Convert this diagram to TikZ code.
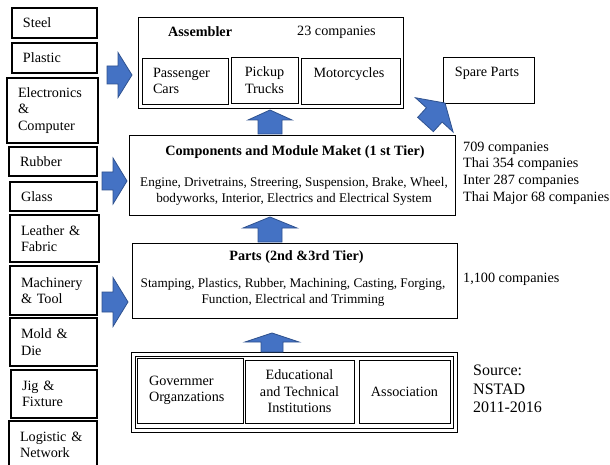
\documentclass[tikz,border=0pt]{standalone}
\usepackage{fontspec}
\setmainfont{Liberation Serif}
\definecolor{arrfill}{HTML}{4472C4}
\definecolor{arrline}{HTML}{2F528F}
\newcommand\setfs[2]{\fontsize{#1}{#2}\selectfont}
% tail point, angle, length, shaft half width, head half width, head length
\newcommand\BlockArr[6]{%
  \filldraw[blockarrow, shift={#1}, rotate=#2]
    (0,#4) -- ({#3-#6},#4) -- ({#3-#6},#5) -- (#3,0) -- ({#3-#6},-#5)
    -- ({#3-#6},-#4) -- (0,-#4) -- cycle;}
\begin{document}
\begin{tikzpicture}[x=1pt,y=-1pt,
  box/.style={draw=black, line width=0.9pt, inner sep=0pt},
  lbox/.style={box, align=left, inner xsep=11pt, font=\setfs{14.2}{16.5}},
  sbox/.style={lbox, line width=1.1pt},
  cbox/.style={box, align=center, font=\setfs{14.2}{16.5}},
  txt/.style={inner sep=0pt, font=\setfs{14.2}{16.5}},
  title/.style={inner sep=0pt, font=\setfs{14.2}{17}\bfseries},
  body/.style={inner sep=0pt, align=center, font=\setfs{13.2}{16}},
  blockarrow/.style={fill=arrfill, draw=arrline, line width=0.8pt, line join=miter}]
\useasboundingbox (0,0) rectangle (610,465);
\clip (0,0) rectangle (610,465);

% left column of suppliers
\node[sbox, minimum width=85pt, text width=63pt, minimum height=30pt] (steel) at (54.5,23) {Steel};
\node[sbox, minimum width=85pt, text width=63pt, minimum height=30pt] (plastic) at (54.5,58) {Plastic};
\node[sbox, minimum width=91pt, text width=69pt, minimum height=65pt] (elec) at (52.5,110.5) {Electronics\\ \&\\ Computer};
\node[sbox, minimum width=88pt, text width=66pt, minimum height=29pt] (rubber) at (53,161.5) {Rubber};
\node[sbox, minimum width=87pt, text width=65pt, minimum height=29pt] (glass) at (53.5,196.5) {Glass};
\node[sbox, minimum width=89pt, text width=67pt, minimum height=47pt] (leather) at (54.5,238.5) {Leather \&\\ Fabric};
\node[sbox, minimum width=87pt, text width=65pt, minimum height=49pt] (mach) at (53.5,290.5) {Machinery\\ \& Tool};
\node[sbox, minimum width=87pt, text width=65pt, minimum height=48pt] (mold) at (53.5,342) {Mold \&\\ Die};
\node[sbox, minimum width=86pt, text width=64pt, minimum height=48pt] (jig) at (54,394) {Jig \&\\ Fixture};
\node[sbox, minimum width=88pt, text width=66pt, minimum height=48pt] (logi) at (53,445) {Logistic \&\\ Network};

% assembler
\node[box, minimum width=265pt, minimum height=91pt] (asm) at (270.5,62.5) {};
\node[title, anchor=west] (asmt) at (168,32) {Assembler};
\node[txt, anchor=west] (asmc) at (297,32) {23 companies};
\node[lbox, minimum width=86pt, text width=64pt, minimum height=46pt] (pass) at (185,81) {Passenger\\ Cars};
\node[cbox, minimum width=67pt, minimum height=46pt] (pick) at (264.5,80) {Pickup\\ Trucks};
\node[box, minimum width=99pt, minimum height=46pt] (moto) at (350.5,81) {};
\node[txt] (motot) at (349,74) {Motorcycles};

% spare parts
\node[box, minimum width=91pt, minimum height=46pt] (spare) at (488.5,80) {};
\node[txt] (sparet) at (487,73) {Spare Parts};

% components
\node[box, minimum width=326pt, minimum height=80pt] (comp) at (292,175) {};
\node[title] (compt) at (295,152) {Components and Module Maket (1 st Tier)};
\node[body] (compb) at (294,191) {Engine, Drivetrains, Streering, Suspension, Brake, Wheel,\\ bodyworks, Interior, Electrics and Electrical System};

% parts
\node[box, minimum width=325pt, minimum height=75pt] (parts) at (294.5,280.5) {};
\node[title] (partst) at (296.5,257) {Parts (2nd \&3rd Tier)};
\node[body] (partsb) at (293,292) {Stamping, Plastics, Rubber, Machining, Casting, Forging,\\ Function, Electrical and Trimming};

% support institutions
\node[box, minimum width=326pt, minimum height=80pt] (supo) at (294,392) {};
\node[box, minimum width=318pt, minimum height=72pt] (supi) at (294,392) {};
\node[lbox, minimum width=106pt, text width=82pt, inner xsep=12pt, minimum height=65pt] (gov) at (190,390.5) {Governmer\\ Organzations};
\node[cbox, minimum width=109pt, minimum height=63pt] (edu) at (299.5,391.5) {Educational\\ and Technical\\ Institutions};
\node[cbox, minimum width=91pt, minimum height=63pt] (assoc) at (404.5,391.5) {Association};

% right-hand labels
\node[txt, anchor=west, align=left, font=\setfs{14.2}{16.7}] (cnt1) at (463,173) {709 companies\\ Thai 354 companies\\ Inter 287 companies\\ Thai Major 68 companies};
\node[txt, anchor=west] (cnt2) at (463,279) {1,100 companies};
\node[txt, anchor=west, align=left, font=\setfs{16}{18.5}] (src) at (473,389) {Source:\\ NSTAD\\ 2011-2016};

% block arrows
\BlockArr{(107,75)}{0}{25}{9}{22.5}{14}
\BlockArr{(102,181)}{0}{25}{9}{23}{14}
\BlockArr{(102,302)}{0}{26}{10}{24.5}{15}
\BlockArr{(270,134)}{90}{24}{12}{22}{10}
\BlockArr{(270,242)}{90}{25}{12}{27}{11}
\BlockArr{(272,352)}{90}{19}{11}{27}{9}
\BlockArr{(425.5,124.5)}{47.7}{29}{10.6}{25.5}{16}
\end{tikzpicture}
\end{document}
